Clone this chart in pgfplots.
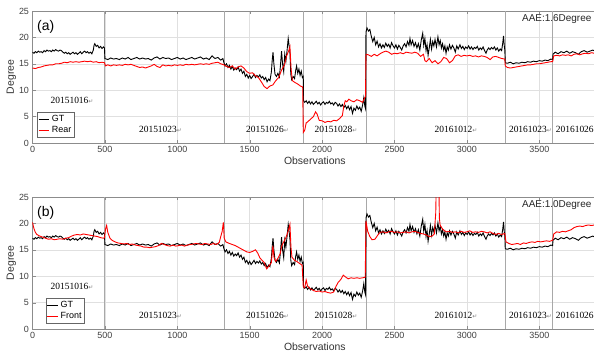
\documentclass[border=0pt]{standalone}
\usepackage{pgfplots}
\pgfplotsset{compat=1.18}
\usepackage{pgfplotstable}
\usepackage{fontspec}
\setmainfont{Liberation Sans}
\newfontfamily\datefont{Liberation Serif}
\newfontfamily\symfont{DejaVu Sans}
\definecolor{gridc}{gray}{0.88}
\definecolor{axc}{gray}{0.55}
\definecolor{sess}{gray}{0.66}
\newcommand{\dl}[1]{{\datefont\fontsize{9.5}{10}\selectfont #1}{\symfont\fontsize{6}{6}\selectfont\color{gray}↵}}

\pgfplotstableread{
x y
0 17.2
10 17.0
20 17.3
30 17.1
40 17.4
50 17.2
60 17.3
70 17.1
80 17.5
90 17.3
100 17.6
110 17.4
120 17.5
130 17.3
140 17.6
150 17.4
160 17.7
170 17.5
180 17.4
190 17.6
200 17.5
210 17.2
220 17.0
230 17.2
240 16.9
250 17.1
260 16.8
270 17.0
280 17.2
290 16.9
300 17.1
310 16.8
320 17.0
330 17.3
340 16.9
350 17.2
360 17.4
370 17.1
380 17.3
390 17.0
400 17.2
410 16.9
420 17.6
425 18.5
430 18.8
440 18.3
450 18.5
460 18.0
470 18.3
480 17.9
490 18.2
497 18.0
500 16.0
520 15.8
540 16.1
560 15.9
580 16.0
600 15.8
620 16.1
640 15.9
660 16.2
680 15.8
700 16.0
720 16.2
740 15.9
760 16.1
780 15.9
800 16.0
820 15.7
840 16.1
860 16.3
880 15.9
900 16.2
920 16.0
940 16.1
960 15.8
980 16.0
1000 16.2
1020 15.9
1040 16.1
1060 15.8
1080 16.0
1100 16.2
1120 15.9
1140 16.1
1160 16.3
1180 15.9
1200 16.1
1220 15.8
1240 16.5
1260 16.0
1280 16.2
1300 15.7
1315 16.0
1322 15.2
1330 14.6
1340 15.0
1350 14.3
1360 14.7
1370 14.0
1380 14.5
1390 13.8
1400 14.2
1410 13.9
1420 14.4
1430 13.6
1440 14.0
1450 13.2
1460 13.6
1470 12.6
1480 13.0
1490 12.3
1500 12.8
1510 12.2
1520 12.6
1530 13.0
1540 12.4
1550 12.8
1560 12.5
1570 12.9
1580 12.3
1590 12.6
1600 12.0
1610 12.4
1620 11.6
1630 12.1
1640 11.8
1650 13.5
1655 15.5
1661 17.2
1667 15.0
1675 13.0
1685 12.6
1695 13.2
1705 12.5
1712 14.5
1720 17.4
1727 15.0
1735 13.5
1742 16.8
1750 15.5
1758 17.5
1766 19.8
1772 18.5
1778 17.0
1784 13.0
1790 12.0
1800 12.6
1810 12.2
1818 13.8
1824 14.6
1832 13.2
1840 14.0
1848 12.8
1856 13.6
1864 12.4
1870 12.6
1872 8.0
1880 7.7
1890 8.0
1900 7.5
1910 7.9
1920 7.4
1930 7.8
1940 7.3
1950 7.6
1960 7.9
1970 7.4
1980 7.7
1990 7.2
2000 7.6
2010 7.8
2020 7.3
2030 7.7
2040 7.5
2050 7.9
2060 7.4
2070 7.6
2080 7.2
2090 7.7
2100 7.5
2110 7.0
2120 7.4
2130 6.9
2140 7.3
2150 6.7
2160 7.1
2170 6.5
2180 7.0
2190 6.3
2200 6.9
2210 5.6
2220 6.6
2230 6.2
2240 7.0
2250 6.4
2260 6.8
2270 6.0
2280 7.2
2288 8.6
2295 7.0
2300 6.5
2303 21.0
2310 21.8
2320 21.2
2330 21.5
2340 20.2
2350 19.2
2360 20.0
2370 18.6
2380 19.3
2390 18.2
2400 18.8
2410 18.0
2420 18.6
2430 18.1
2440 18.9
2450 18.3
2460 18.7
2470 18.0
2480 19.0
2490 18.4
2500 18.0
2510 18.6
2520 17.8
2530 18.5
2540 18.1
2550 17.6
2560 18.4
2570 18.8
2580 18.2
2590 19.2
2600 18.5
2607 19.8
2615 18.6
2625 19.4
2635 18.3
2645 19.0
2655 18.0
2665 18.8
2675 17.6
2685 19.5
2695 20.8
2702 18.5
2710 19.8
2718 17.5
2725 18.6
2732 16.6
2740 18.0
2748 19.6
2756 17.8
2764 19.2
2772 18.4
2780 19.6
2790 18.2
2800 20.1
2808 18.6
2816 19.4
2824 18.0
2832 18.8
2840 17.6
2848 18.4
2856 17.0
2864 18.2
2872 17.6
2880 18.6
2890 17.8
2900 18.5
2910 18.0
2920 17.2
2930 18.4
2940 17.8
2952 18.6
2962 17.9
2972 18.3
2982 17.7
2992 18.2
3002 17.9
3012 18.4
3022 17.8
3032 18.2
3042 17.7
3052 18.1
3062 17.9
3072 18.3
3082 17.6
3092 18.0
3102 17.7
3112 18.2
3122 17.5
3132 17.0
3140 17.6
3150 18.0
3160 17.7
3170 18.1
3180 17.8
3190 18.2
3200 17.6
3210 18.0
3220 17.4
3230 17.8
3240 17.5
3248 19.0
3253 20.3
3258 18.5
3262 17.6
3265 15.2
3280 15.1
3300 15.3
3320 15.0
3340 15.2
3360 15.1
3380 15.3
3400 15.2
3420 15.4
3440 15.3
3460 15.5
3480 15.4
3500 15.6
3520 15.5
3540 15.7
3560 15.6
3580 15.9
3592 15.8
3595 16.8
3610 17.2
3630 16.9
3650 17.3
3670 17.1
3690 17.4
3710 17.0
3730 17.3
3750 17.1
3770 16.8
3790 17.3
3810 17.5
3830 17.2
3850 17.4
3870 17.6
3890 17.3
3900 17.4
}\gt

\pgfplotstableread{
x y
0 14.2
20 14.1
40 14.3
60 14.4
80 14.6
100 14.7
120 14.8
140 14.8
160 15.0
180 15.0
200 15.1
220 15.3
240 15.2
260 15.4
280 15.3
300 15.4
320 15.3
340 15.4
360 15.5
380 15.4
400 15.5
420 15.3
440 15.4
460 15.2
480 15.3
497 15.2
505 14.6
520 14.8
540 14.6
560 14.8
580 14.7
600 14.8
620 14.7
640 14.9
660 14.8
680 14.9
700 14.7
720 14.5
740 14.3
760 14.4
780 14.2
800 14.4
820 14.6
840 14.9
860 14.5
880 14.3
900 14.8
920 14.6
940 14.7
960 14.6
980 14.8
1000 14.7
1020 14.8
1040 14.7
1060 14.9
1080 14.8
1100 14.9
1120 14.8
1140 14.9
1160 15.0
1180 14.9
1200 15.0
1220 14.9
1240 15.1
1260 15.2
1280 15.3
1300 15.0
1322 14.8
1340 14.5
1360 14.3
1380 14.6
1400 14.0
1420 14.4
1440 14.6
1460 14.2
1480 13.5
1500 13.2
1520 13.3
1540 12.7
1560 12.4
1580 11.6
1600 10.7
1620 10.3
1640 10.8
1660 11.0
1680 11.8
1700 12.4
1720 13.8
1740 14.8
1755 16.5
1770 17.5
1778 18.2
1786 14.0
1795 11.8
1810 11.5
1830 11.2
1850 10.8
1866 10.6
1870 2.0
1880 2.4
1890 3.8
1900 4.0
1920 4.5
1940 5.0
1955 5.9
1965 5.5
1980 4.3
2000 4.2
2020 3.9
2040 4.1
2060 4.0
2080 4.3
2100 4.2
2120 4.6
2140 5.2
2150 7.0
2160 8.0
2170 7.8
2185 8.3
2200 8.0
2220 7.8
2240 8.2
2260 8.0
2280 7.7
2295 8.6
2300 8.8
2303 16.8
2320 16.7
2340 16.4
2360 16.8
2380 16.5
2400 16.9
2420 17.2
2440 17.4
2460 17.2
2480 16.8
2500 17.0
2520 16.9
2540 17.1
2560 16.9
2580 17.2
2600 17.1
2620 17.0
2640 17.2
2660 17.0
2680 16.4
2700 16.8
2710 15.6
2720 15.4
2740 16.0
2760 15.2
2780 15.6
2800 15.0
2820 15.4
2840 16.2
2860 16.0
2880 15.2
2900 15.6
2920 16.5
2940 16.7
2960 16.4
2980 16.6
3000 16.5
3020 16.6
3040 16.4
3060 16.5
3080 16.3
3100 16.5
3120 16.4
3140 16.2
3160 15.8
3180 16.3
3200 16.4
3220 16.2
3240 16.0
3262 15.9
3265 14.6
3280 14.3
3300 14.2
3320 14.3
3340 14.4
3360 14.5
3380 14.6
3400 14.7
3420 14.8
3440 14.8
3460 14.9
3480 15.0
3500 15.0
3520 15.1
3540 15.2
3560 15.3
3580 15.4
3592 15.4
3600 16.5
3620 16.6
3640 16.5
3660 16.7
3680 16.6
3700 16.7
3720 16.5
3740 16.8
3760 16.9
3780 16.7
3800 16.9
3820 17.0
3840 16.9
3860 17.1
3880 17.0
3900 17.1
}\rear

\pgfplotstableread{
x y
0 20.2
10 19.0
20 18.3
30 17.9
50 17.6
70 17.4
90 17.2
110 17.0
130 17.1
150 16.9
170 17.0
190 17.1
210 17.0
230 17.2
250 17.3
270 17.6
290 17.8
310 17.9
330 17.8
350 18.0
370 17.9
390 17.8
410 17.7
430 17.6
450 17.5
470 17.3
490 17.2
497 17.3
505 19.0
512 19.6
520 18.3
535 17.2
550 16.8
570 16.5
590 16.3
610 16.2
630 16.1
650 16.2
670 16.0
690 16.1
710 15.9
730 15.8
750 15.7
770 15.5
790 15.5
810 15.4
830 15.5
850 15.6
870 15.8
890 16.2
910 16.0
930 15.8
950 15.7
970 15.9
990 15.7
1010 15.8
1030 15.9
1050 15.7
1070 15.9
1090 16.0
1110 16.1
1130 16.2
1150 16.1
1170 16.0
1190 16.2
1210 16.1
1230 16.0
1250 16.2
1270 16.0
1290 16.4
1300 17.5
1310 18.5
1318 20.2
1324 17.2
1335 16.5
1360 16.2
1380 16.0
1400 15.8
1420 15.5
1440 15.2
1460 14.9
1480 14.6
1500 14.5
1520 14.7
1540 15.0
1555 14.4
1570 13.5
1585 13.0
1600 12.6
1617 11.4
1635 12.0
1650 12.6
1660 15.8
1668 13.5
1680 12.8
1695 13.4
1710 14.2
1721 15.7
1735 16.5
1750 17.3
1765 18.5
1778 19.8
1785 15.5
1792 13.6
1810 13.0
1825 12.8
1845 12.4
1862 12.1
1870 8.0
1880 7.8
1890 9.3
1900 8.1
1920 7.6
1940 7.3
1960 7.1
1980 7.2
2000 7.0
2020 7.1
2040 6.9
2060 6.8
2080 7.0
2095 8.0
2110 8.8
2130 9.4
2146 10.2
2160 9.9
2180 9.5
2200 9.7
2220 9.6
2240 9.7
2260 9.6
2280 9.7
2298 9.8
2303 20.5
2315 18.5
2330 17.5
2345 16.9
2365 17.0
2385 17.8
2400 18.3
2420 18.4
2440 18.2
2460 18.4
2480 18.5
2500 18.3
2520 18.4
2540 18.2
2560 18.3
2580 18.4
2600 18.2
2620 18.4
2640 18.5
2660 18.3
2680 18.1
2700 18.0
2720 17.8
2740 17.5
2760 17.6
2775 18.0
2785 22.0
2790 30.0
2805 30.0
2810 21.0
2815 19.7
2830 19.0
2845 18.6
2860 18.4
2880 18.5
2900 18.3
2920 18.4
2940 18.2
2960 18.5
2980 18.3
3000 18.4
3020 18.6
3040 18.3
3060 18.4
3080 18.3
3100 18.5
3120 18.4
3140 18.2
3160 18.4
3180 18.1
3200 17.9
3220 18.1
3240 17.9
3262 18.1
3270 16.5
3290 16.2
3310 16.0
3330 16.1
3350 16.2
3370 16.0
3390 16.3
3410 16.2
3430 16.4
3450 16.5
3470 16.4
3490 16.6
3510 16.5
3530 16.6
3550 16.7
3570 16.6
3592 16.8
3600 18.0
3620 18.4
3640 18.3
3660 18.5
3680 18.4
3700 18.6
3720 18.8
3740 19.2
3760 19.4
3780 19.5
3800 19.4
3820 19.6
3840 19.7
3860 19.6
3880 19.7
3900 19.5
}\front

\pgfplotsset{
  panel/.style={
    anchor=south west,
    scale only axis,
    width=564.7bp, height=132bp,
    xmin=0, xmax=3900, ymin=0, ymax=25,
    xtick={0,500,...,3500}, ytick={0,5,...,25},
    grid=major,
    grid style={gridc, line width=0.5pt},
    axis line style={axc, line width=0.6pt},
    tick style={axc},
    tick align=inside,
    major tick length=3bp,
    tick label style={font=\fontsize{9}{10}\selectfont, text=black!75},
    /pgf/number format/assume math mode=true,
    /pgf/number format/1000 sep={},
    xlabel={Observations},
    ylabel={Degree},
    label style={font=\fontsize{10.5}{12}\selectfont, text=black!80},
    xlabel style={yshift=3bp},
    ylabel style={yshift=-4bp},
    extra x ticks={497,1322,1870,2303,3263,3592},
    extra x tick labels={},
    extra x tick style={grid style={sess, line width=0.8pt}, major tick length=0pt},
    legend cell align=left,
    legend style={font=\fontsize{9}{10}\selectfont, draw=black!60, inner sep=1pt, row sep=-1pt},
    legend image code/.code={\draw[#1] (0cm,0cm) -- (0.38cm,0cm);},
    clip=true,
  }
}

\begin{document}
\begin{tikzpicture}
\useasboundingbox (0,0) rectangle (594bp,359bp);
% panel (a)
\begin{axis}[panel, at={(32.5bp,216bp)},
  legend style={at={(0.008,0.045)}, anchor=south west}]
\addplot[black, line width=0.9pt] table {\gt};
\addplot[red, line width=0.9pt] table {\rear};
\legend{GT,Rear}
\node[font=\fontsize{14}{16}\selectfont, anchor=west, inner sep=0pt] at (axis description cs:0.008,0.88) {(a)};
\node[font=\fontsize{10}{12}\selectfont, anchor=west, inner sep=0pt, text=black!85] at (axis cs:3380,23.5) {AAE:1.6Degree};
\node at (axis cs:273,8.1) {\dl{20151016}};
\node at (axis cs:884,2.5) {\dl{20151023}};
\node at (axis cs:1623,2.5) {\dl{20151026}};
\node at (axis cs:2096,2.5) {\dl{20151028}};
\node at (axis cs:2925,2.5) {\dl{20161012}};
\node at (axis cs:3439,2.5) {\dl{20161023}};
\node[anchor=west, inner sep=0pt] at (axis cs:3613,2.5) {\dl{20161026}};
\end{axis}
% panel (b)
\begin{axis}[panel, at={(32.5bp,30bp)},
  legend style={at={(0.0235,0.045)}, anchor=south west}]
\addplot[black, line width=0.9pt] table {\gt};
\addplot[red, line width=0.9pt] table {\front};
\legend{GT,Front}
\node[font=\fontsize{14}{16}\selectfont, anchor=west, inner sep=0pt] at (axis description cs:0.008,0.88) {(b)};
\node[font=\fontsize{10}{12}\selectfont, anchor=west, inner sep=0pt, text=black!85] at (axis cs:3380,23.5) {AAE:1.0Degree};
\node at (axis cs:273,8.0) {\dl{20151016}};
\node at (axis cs:884,2.5) {\dl{20151023}};
\node at (axis cs:1623,2.5) {\dl{20151026}};
\node at (axis cs:2096,2.5) {\dl{20151028}};
\node at (axis cs:2925,2.5) {\dl{20161012}};
\node at (axis cs:3439,2.5) {\dl{20161023}};
\node[anchor=west, inner sep=0pt] at (axis cs:3613,2.5) {\dl{20161026}};
\end{axis}
\end{tikzpicture}
\end{document}
